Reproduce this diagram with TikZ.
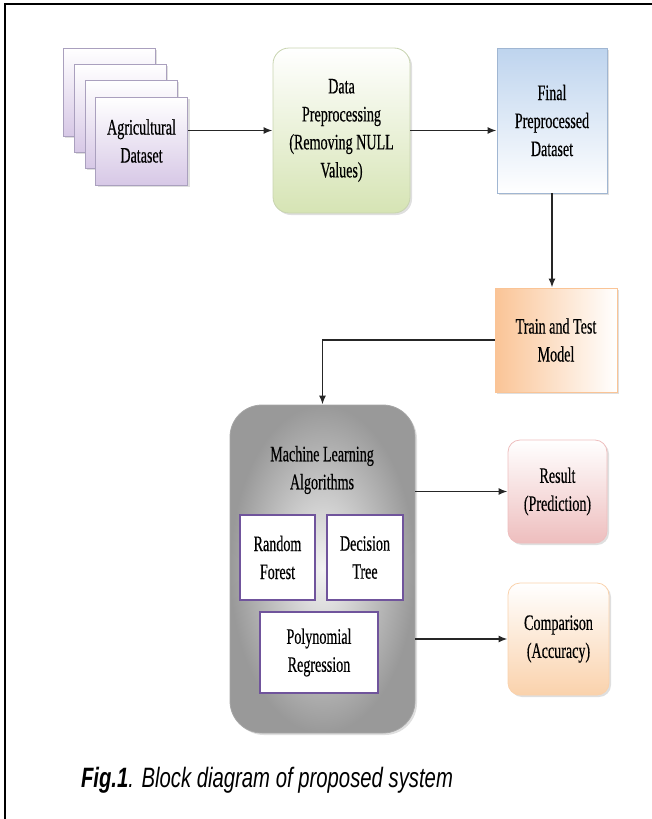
\documentclass[tikz,border=0pt]{standalone}
\usepackage{fontspec}
\usepackage{tikz}
\usetikzlibrary{arrows.meta,shadows}
\newfontfamily\boxfont{Liberation Serif}[FakeStretch=0.64, FakeBold=0.4]
\newfontfamily\capfont{Liberation Sans}[FakeStretch=0.725]

\begin{document}
\begin{tikzpicture}[x=1pt, y=-1pt,
    block/.style={draw, align=center, inner sep=2pt, line width=0.8pt,
      font=\boxfont\fontsize{22}{28}\selectfont,
      drop shadow={opacity=0.25, shadow xshift=2pt, shadow yshift=-2pt}},
    algobox/.style={draw=algopurple, line width=2.4pt, fill=white, align=center,
      font=\boxfont\fontsize{22}{28}\selectfont},
    flow/.style={line width=1.7pt, draw=black!85, -{Latex[length=9pt,width=7pt]}}]
    % 定义颜色
    \definecolor{stackline}{RGB}{170, 160, 190}
    \definecolor{stackfill}{RGB}{215, 200, 230}
    \definecolor{prepline}{RGB}{200, 212, 176}
    \definecolor{prepfill}{RGB}{214, 228, 180}
    \definecolor{finalline}{RGB}{160, 182, 210}
    \definecolor{finalfill}{RGB}{190, 212, 238}
    \definecolor{trainfill}{RGB}{250, 196, 150}
    \definecolor{resultfill}{RGB}{238, 190, 190}
    \definecolor{compfill}{RGB}{250, 210, 172}
    \definecolor{algopurple}{RGB}{112, 84, 156}

    \useasboundingbox (0,0) rectangle (652,819);

    % 边框
    \draw[line width=2.5pt] (652,4) -- (5,4) -- (5,819);

    % 数据集
    \node[block, draw=stackline, top color=white, bottom color=stackfill,
      minimum width=92pt, minimum height=88pt] (stackA) at (109,92) {};
    \node[block, draw=stackline, top color=white, bottom color=stackfill,
      minimum width=92pt, minimum height=88pt] (stackB) at (120,108) {};
    \node[block, draw=stackline, top color=white, bottom color=stackfill,
      minimum width=92pt, minimum height=88pt] (stackC) at (131,124) {};
    \node[block, draw=stackline, top color=white, bottom color=stackfill,
      minimum width=92pt, minimum height=88pt] (agri) at (141.5,141) {Agricultural\\Dataset};

    % 预处理
    \node[block, draw=prepline, top color=white, bottom color=prepfill, rounded corners=16pt,
      minimum width=137pt, minimum height=165pt] (prep) at (341.5,130.5)
      {Data\\Preprocessing\\(Removing NULL\\Values)};
    \node[block, draw=finalline, top color=finalfill, bottom color=white,
      minimum width=110pt, minimum height=145pt] (final) at (552,120.5)
      {Final\\Preprocessed\\Dataset};
    \node[block, draw=trainfill, left color=trainfill, right color=white,
      minimum width=122pt, minimum height=104pt] (train) at (556,340)
      {Train and Test\\Model};

    % 机器学习算法
    \node[block, draw=gray!70, inner color=gray!10, outer color=gray!80, rounded corners=32pt,
      minimum width=185pt, minimum height=328pt] (ml) at (322.5,569) {};
    \node[align=center, font=\boxfont\fontsize{22}{28}\selectfont] (mltext) at (322,470)
      {Machine Learning\\Algorithms};
    \node[algobox, minimum width=75pt, minimum height=85pt] (rf) at (277.5,557.5) {Random\\Forest};
    \node[algobox, minimum width=76pt, minimum height=85pt] (dt) at (365,557.5) {Decision\\Tree};
    \node[algobox, minimum width=118pt, minimum height=81pt] (pr) at (319,652.5) {Polynomial\\Regression};

    % 输出
    \node[block, draw=resultfill, top color=white, bottom color=resultfill, rounded corners=12pt,
      minimum width=99pt, minimum height=103pt] (result) at (557.5,491.5) {Result\\(Prediction)};
    \node[block, draw=compfill, top color=white, bottom color=compfill, rounded corners=12pt,
      minimum width=101pt, minimum height=112pt] (comp) at (558.5,639) {Comparison\\(Accuracy)};

    % 连线
    \draw[flow] (agri.east |- prep) -- (prep);
    \draw[flow] (prep.east) -- (final.west |- prep.east);
    \draw[flow] (final.south) -- (final.south |- train.north);
    \draw[flow] (train.west) -| (ml.north);
    \draw[flow] (ml.east |- result) -- (result);
    \draw[flow] (ml.east |- comp) -- (comp);

    % 图注
    \node[font=\capfont\fontsize{28}{32}\selectfont] (caption) at (267,780)
      {\textbf{\textit{Fig.1}}\textit{. Block diagram of proposed system}};
\end{tikzpicture}
\end{document}
